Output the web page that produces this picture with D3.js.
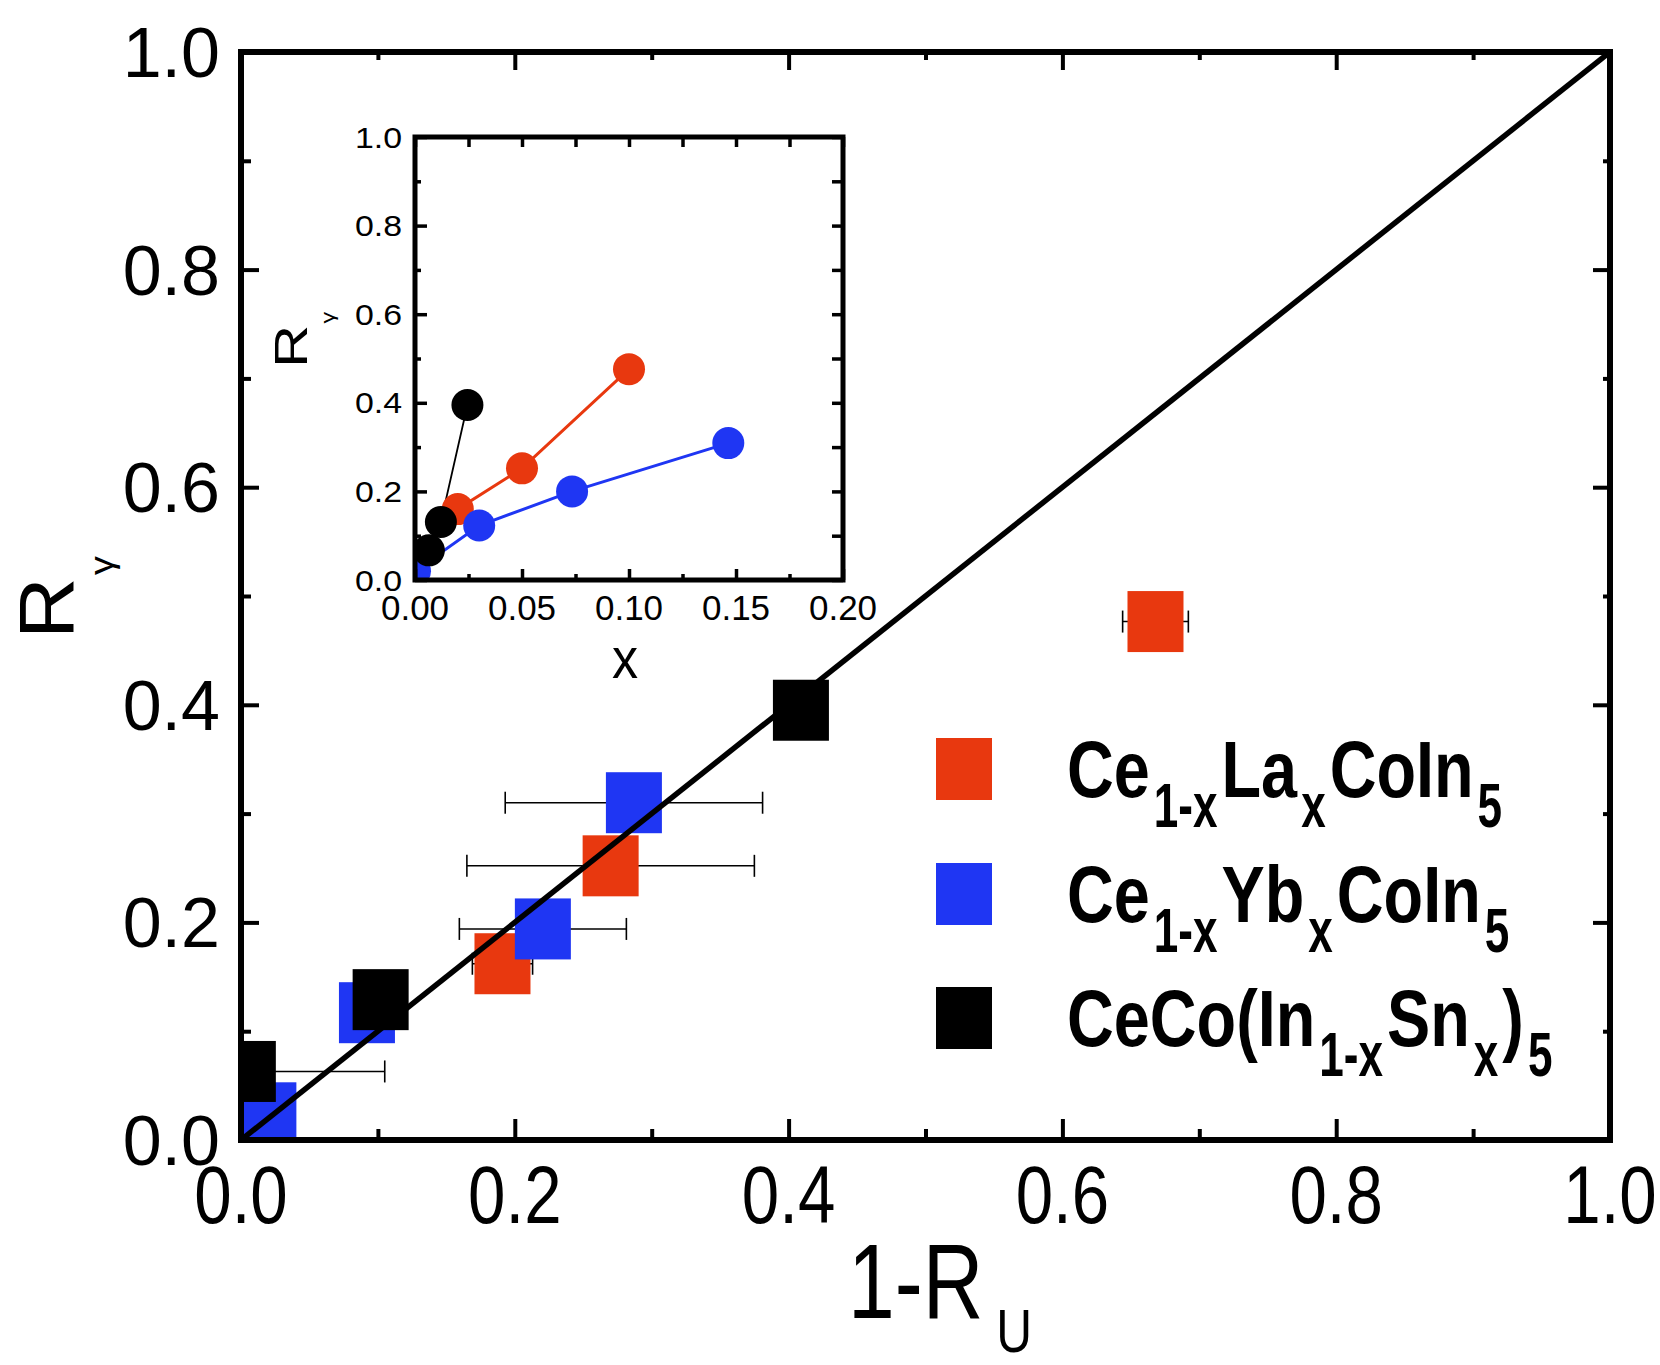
<!DOCTYPE html>
<html>
<head>
<meta charset="utf-8">
<script src="https://cdn.jsdelivr.net/npm/d3@7"></script>
<style>
	body { margin: 0; background: #fff; }
	svg { display: block; font-family: "Liberation Sans", Arial, sans-serif; }
</style>
</head>
<body>
<svg id="chart" width="1660" height="1365"></svg>
<script>
// values

// main panel: 1-R_U against R_gamma, with horizontal error bars
var la_u = [0.191, 0.270, 0.668];
var la_g = [0.162, 0.252, 0.4765];
var la_err = [0.022, 0.105, 0.024];

var yb_u = [0.020, 0.092, 0.2205, 0.287];
var yb_g = [0.025, 0.117, 0.194, 0.310];
var yb_err = [0, 0, 0.061, 0.094];

var sn_u = [0.005, 0.102, 0.409];
var sn_g = [0.063, 0.129, 0.395];
var sn_err = [0.100, 0, 0];

// inset: R_gamma against x
var ins_la_x = [0.020, 0.050, 0.100];
var ins_la_g = [0.160, 0.252, 0.476];
var ins_yb_x = [0.000, 0.030, 0.0734, 0.1464];
var ins_yb_g = [0.020, 0.123, 0.200, 0.309];
var ins_sn_x = [0.0065, 0.0121, 0.0245];
var ins_sn_g = [0.067, 0.131, 0.395];

// ticks
var main_major = [0, 0.2, 0.4, 0.6, 0.8, 1.0];
var main_minor = [0.1, 0.3, 0.5, 0.7, 0.9];
var ins_x_major = [0, 0.05, 0.10, 0.15, 0.20];
var ins_x_minor = [0.025, 0.075, 0.125, 0.175];
var ins_y_major = [0, 0.2, 0.4, 0.6, 0.8, 1.0];
var ins_y_minor = [0.1, 0.3, 0.5, 0.7, 0.9];

// legend labels: [text, is subscript]
var legend_names = [
	[["Ce", 0], ["1-x", 1], ["La", 0], ["x", 1], ["CoIn", 0], ["5", 1]],
	[["Ce", 0], ["1-x", 1], ["Yb", 0], ["x", 1], ["CoIn", 0], ["5", 1]],
	[["CeCo(In", 0], ["1-x", 1], ["Sn", 0], ["x", 1], [")", 0], ["5", 1]]
];

var RED = "#e8380f",
	BLUE = "#1f36f3",
	BLACK = "#000";

var width = 1660,
	height = 1365,
	M = { left: 241, right: 1610, top: 52, bottom: 1140 },
	I = { left: 415, right: 843, top: 137, bottom: 580 },
	SQ_W = 56,
	SQ_H = 61,
	CAP = 11;

var svg = d3.select("#chart");
svg.append("rect").attr("width", width).attr("height", height).attr("fill", "#fff");

var defs = svg.append("defs");
defs.append("clipPath").attr("id", "clip_main").append("rect")
	.attr("x", M.left).attr("y", M.top)
	.attr("width", M.right - M.left).attr("height", M.bottom - M.top);
defs.append("clipPath").attr("id", "clip_inset").append("rect")
	.attr("x", I.left).attr("y", I.top)
	.attr("width", I.right - I.left).attr("height", I.bottom - I.top);

var x = d3.scaleLinear().domain([0, 1]).range([M.left, M.right]);
var y = d3.scaleLinear().domain([0, 1]).range([M.bottom, M.top]);

// inward ticks through d3 axes
var draw_ticks = function(parent, axisFn, scale, values, size, sw, tx, ty) {
	var g = parent.append("g").attr("transform", "translate(" + tx + "," + ty + ")");
	g.call(axisFn(scale).tickValues(values).tickSizeInner(size).tickSizeOuter(0).tickFormat(""));
	g.select(".domain").remove();
	g.selectAll(".tick line").attr("stroke", "#000").attr("stroke-width", sw);
	g.selectAll(".tick text").remove();
	return g;
}

// ---- main panel ----
var series = [
	{ u: la_u, g: la_g, err: la_err, color: RED },
	{ u: yb_u, g: yb_g, err: yb_err, color: BLUE },
	{ u: sn_u, g: sn_g, err: sn_err, color: BLACK }
];

var marks = svg.append("g").attr("clip-path", "url(#clip_main)");

// error bars first, squares over them
series.forEach(function(s) {
	s.u.forEach(function(u, i) {
		if (!s.err[i]) return;
		var x0 = x(u - s.err[i]), x1 = x(u + s.err[i]), yy = y(s.g[i]);
		var eb = marks.append("g").attr("stroke", "#000").attr("stroke-width", 1.6);
		eb.append("line").attr("x1", x0).attr("x2", x1).attr("y1", yy).attr("y2", yy);
		eb.append("line").attr("x1", x0).attr("x2", x0).attr("y1", yy - CAP).attr("y2", yy + CAP);
		eb.append("line").attr("x1", x1).attr("x2", x1).attr("y1", yy - CAP).attr("y2", yy + CAP);
	});
});

series.forEach(function(s) {
	marks.selectAll(null)
		.data(d3.zip(s.u, s.g))
		.enter()
		.append("rect")
		.attr("x", function(d) { return x(d[0]) - SQ_W / 2; })
		.attr("y", function(d) { return y(d[1]) - SQ_H / 2; })
		.attr("width", SQ_W)
		.attr("height", SQ_H)
		.attr("fill", s.color);
});

// y = x guide
var line = d3.line()
	.x(function(d) { return x(d); })
	.y(function(d) { return y(d); });
marks.append("path")
	.attr("d", line([0, 1]))
	.attr("fill", "none")
	.attr("stroke", "#000")
	.attr("stroke-width", 5.5);

// frame + ticks
var axes = svg.append("g");
draw_ticks(axes, d3.axisBottom, x, main_major, -21, 4, 0, M.bottom);
draw_ticks(axes, d3.axisBottom, x, main_minor, -11, 4, 0, M.bottom);
draw_ticks(axes, d3.axisTop, x, main_major, -18, 4, 0, M.top);
draw_ticks(axes, d3.axisTop, x, main_minor, -8, 4, 0, M.top);
draw_ticks(axes, d3.axisLeft, y, main_major, -18, 4, M.left, 0);
draw_ticks(axes, d3.axisLeft, y, main_minor, -10, 4, M.left, 0);
draw_ticks(axes, d3.axisRight, y, main_major, -17, 4, M.right, 0);
draw_ticks(axes, d3.axisRight, y, main_minor, -7, 4, M.right, 0);

axes.append("rect")
	.attr("x", M.left).attr("y", M.top)
	.attr("width", M.right - M.left).attr("height", M.bottom - M.top)
	.attr("fill", "none").attr("stroke", "#000").attr("stroke-width", 6);

// tick labels
var fmt1 = d3.format(".1f"),
	fmt2 = d3.format(".2f");

svg.append("g").selectAll("text")
	.data(main_major)
	.enter()
	.append("text")
	.attr("transform", function(d) { return "translate(" + x(d) + "," + (M.bottom + 83) + ") scale(0.83,1)"; })
	.attr("text-anchor", "middle")
	.style("font-size", "81px")
	.text(fmt1);

svg.append("g").selectAll("text")
	.data(main_major)
	.enter()
	.append("text")
	.attr("x", M.left - 21)
	.attr("y", function(d) { return y(d) + 25; })
	.attr("text-anchor", "end")
	.style("font-size", "70px")
	.text(fmt1);

// axis titles
var xt = svg.append("text")
	.attr("transform", "translate(848,1318) scale(0.8,1)")
	.style("font-size", "105px");
xt.append("tspan").text("1-R");
xt.append("tspan").attr("dx", 16).attr("dy", 34).style("font-size", "62px").text("U");

var yt = svg.append("text")
	.attr("transform", "translate(73,639) rotate(-90) scale(1.11,1)")
	.style("font-size", "77px");
yt.append("tspan").text("R");
yt.append("tspan").attr("dx", 2).attr("dy", 40).style("font-size", "34px").text("\u03b3");

// legend: each piece is its own text so subscripts can be narrower
var legend = svg.append("g");
var LEG_Y = [769, 894, 1018];
legend_names.forEach(function(parts, r) {
	legend.append("rect")
		.attr("x", 936).attr("y", LEG_Y[r] - 31)
		.attr("width", 56).attr("height", 62)
		.attr("fill", series[r].color);

	var cx = 1067,
		base = LEG_Y[r] + 28;
	parts.forEach(function(p, k) {
		var sc = p[1] ? 0.7 : 0.82;
		if (k > 0) cx += 4;
		var t = legend.append("text")
			.attr("transform", "translate(" + cx + "," + (base + (p[1] ? 30 : 0)) + ") scale(" + sc + ",1)")
			.style("font-size", p[1] ? "63px" : "79px")
			.style("font-weight", "bold")
			.text(p[0]);
		cx += t.node().getComputedTextLength() * sc;
	});
});

// ---- inset ----
var ix = d3.scaleLinear().domain([0, 0.2]).range([I.left, I.right]);
var iy = d3.scaleLinear().domain([0, 1]).range([I.bottom, I.top]);

var inset = svg.append("g");
inset.append("rect")
	.attr("x", I.left).attr("y", I.top)
	.attr("width", I.right - I.left).attr("height", I.bottom - I.top)
	.attr("fill", "#fff");

var ins_series = [
	{ x: ins_la_x, g: ins_la_g, color: RED, lw: 3 },
	{ x: ins_yb_x, g: ins_yb_g, color: BLUE, lw: 3 },
	{ x: ins_sn_x, g: ins_sn_g, color: BLACK, lw: 1.8 }
];

var ins_marks = inset.append("g").attr("clip-path", "url(#clip_inset)");
var iline = d3.line()
	.x(function(d) { return ix(d[0]); })
	.y(function(d) { return iy(d[1]); });

ins_series.forEach(function(s) {
	ins_marks.append("path")
		.attr("d", iline(d3.zip(s.x, s.g)))
		.attr("fill", "none")
		.attr("stroke", s.color)
		.attr("stroke-width", s.lw);
});
ins_series.forEach(function(s) {
	ins_marks.selectAll(null)
		.data(d3.zip(s.x, s.g))
		.enter()
		.append("circle")
		.attr("cx", function(d) { return ix(d[0]); })
		.attr("cy", function(d) { return iy(d[1]); })
		.attr("r", 16)
		.attr("fill", s.color);
});

draw_ticks(inset, d3.axisBottom, ix, ins_x_major, -11, 3.5, 0, I.bottom);
draw_ticks(inset, d3.axisBottom, ix, ins_x_minor, -6, 3.5, 0, I.bottom);
draw_ticks(inset, d3.axisTop, ix, ins_x_major, -10, 3.5, 0, I.top);
draw_ticks(inset, d3.axisTop, ix, ins_x_minor, -10, 3.5, 0, I.top);
draw_ticks(inset, d3.axisLeft, iy, ins_y_major, -12, 3.5, I.left, 0);
draw_ticks(inset, d3.axisLeft, iy, ins_y_minor, -6, 3.5, I.left, 0);
draw_ticks(inset, d3.axisRight, iy, ins_y_major, -11, 3.5, I.right, 0);
draw_ticks(inset, d3.axisRight, iy, ins_y_minor, -11, 3.5, I.right, 0);

inset.append("rect")
	.attr("x", I.left).attr("y", I.top)
	.attr("width", I.right - I.left).attr("height", I.bottom - I.top)
	.attr("fill", "none").attr("stroke", "#000").attr("stroke-width", 5);

inset.append("g").selectAll("text")
	.data(ins_x_major)
	.enter()
	.append("text")
	.attr("x", function(d) { return ix(d); })
	.attr("y", I.bottom + 40)
	.attr("text-anchor", "middle")
	.style("font-size", "35px")
	.text(fmt2);

inset.append("g").selectAll("text")
	.data(ins_y_major)
	.enter()
	.append("text")
	.attr("transform", function(d) { return "translate(" + (I.left - 13) + "," + (iy(d) + 10.5) + ") scale(1.13,1)"; })
	.attr("text-anchor", "end")
	.style("font-size", "30px")
	.text(fmt1);

inset.append("text")
	.attr("transform", "translate(625,678) scale(0.9,1)")
	.attr("text-anchor", "middle")
	.style("font-size", "58px")
	.text("x");

var iyt = inset.append("text")
	.attr("transform", "translate(307,368) rotate(-90) scale(1.3,1)")
	.style("font-size", "46px");
iyt.append("tspan").text("R");
iyt.append("tspan").attr("dx", 1).attr("dy", 27).style("font-size", "18px").text("\u03b3");
</script>
</body>
</html>
